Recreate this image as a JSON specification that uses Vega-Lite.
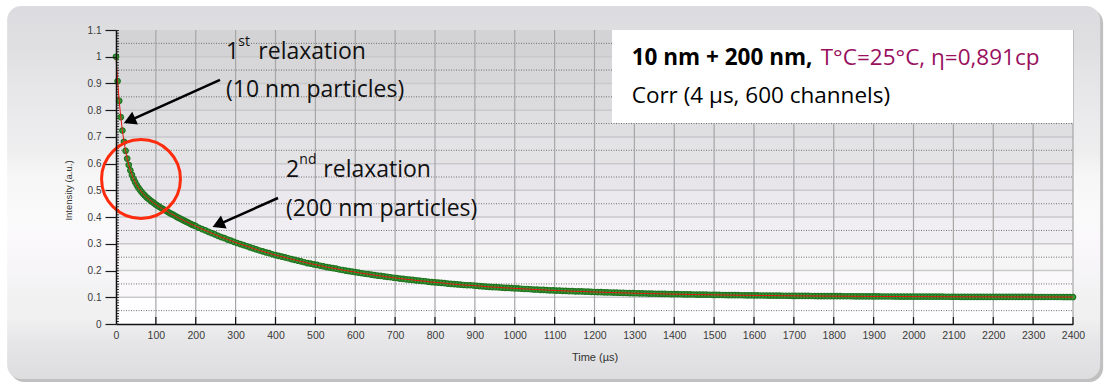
{
  "$schema": "https://vega.github.io/schema/vega-lite/v6.json",
  "width": 957,
  "height": 294,
  "autosize": {"type": "none"},
  "padding": {"left": 116, "top": 30, "right": 34, "bottom": 63},
  "background": "#ffffff",
  "config": {
    "view": {"stroke": null},
    "axis": {
      "grid": false,
      "labelFont": "Liberation Sans",
      "titleFont": "Liberation Sans",
      "labelColor": "#3a3a3a",
      "titleColor": "#333333",
      "titleFontWeight": "normal",
      "domainColor": "#111111",
      "labelOverlap": false,
      "labelFlush": false,
      "labelBound": false,
      "domainWidth": 1.5
    },
    "axisX": {
      "ticks": false,
      "labelPadding": 6,
      "labelFontSize": 10.5,
      "titleFontSize": 11,
      "titleY": 33,
      "titleBaseline": "middle"
    },
    "axisY": {
      "tickSize": 11,
      "tickColor": "#1a1a1a",
      "tickWidth": 1.2,
      "labelPadding": 4,
      "labelFontSize": 10,
      "titleFontSize": 9.5,
      "titleX": -48,
      "titleY": 160,
      "titleBaseline": "middle"
    }
  },
  "datasets": {
    "curve": [
      {"t":0,"v":1},{"t":4,"v":0.909},{"t":8,"v":0.835},{"t":12,"v":0.774},{"t":16,"v":0.724},{"t":20,"v":0.682},{"t":24,"v":0.648},{"t":28,"v":0.619},{"t":32,"v":0.595},{"t":36,"v":0.575},{"t":40,"v":0.558},{"t":44,"v":0.543},{"t":48,"v":0.531},{"t":52,"v":0.52},{"t":56,"v":0.51},{"t":60,"v":0.502},{"t":64,"v":0.494},{"t":68,"v":0.487},{"t":72,"v":0.481},{"t":76,"v":0.475},{"t":80,"v":0.47},{"t":84,"v":0.465},{"t":88,"v":0.46},{"t":92,"v":0.456},{"t":96,"v":0.451},{"t":100,"v":0.447},{"t":104,"v":0.443},{"t":108,"v":0.439},{"t":112,"v":0.435},{"t":116,"v":0.432},{"t":120,"v":0.428},{"t":124,"v":0.425},{"t":128,"v":0.421},{"t":132,"v":0.418},{"t":136,"v":0.414},{"t":140,"v":0.411},{"t":144,"v":0.408},{"t":148,"v":0.405},{"t":152,"v":0.401},{"t":156,"v":0.398},{"t":160,"v":0.395},{"t":164,"v":0.392},{"t":168,"v":0.389},{"t":172,"v":0.386},{"t":176,"v":0.383},{"t":180,"v":0.38},{"t":184,"v":0.377},{"t":188,"v":0.374},{"t":192,"v":0.371},{"t":196,"v":0.369},{"t":200,"v":0.366},
      {"t":208,"v":0.36},{"t":216,"v":0.355},{"t":224,"v":0.35},{"t":232,"v":0.345},{"t":240,"v":0.34},{"t":248,"v":0.335},{"t":256,"v":0.33},{"t":264,"v":0.325},{"t":272,"v":0.321},{"t":280,"v":0.316},{"t":288,"v":0.312},{"t":296,"v":0.307},{"t":304,"v":0.303},{"t":312,"v":0.299},{"t":320,"v":0.295},{"t":328,"v":0.291},{"t":336,"v":0.287},{"t":344,"v":0.283},{"t":352,"v":0.279},{"t":360,"v":0.275},{"t":368,"v":0.272},{"t":376,"v":0.268},{"t":384,"v":0.265},{"t":392,"v":0.261},{"t":400,"v":0.258},{"t":408,"v":0.255},{"t":416,"v":0.252},{"t":424,"v":0.249},{"t":432,"v":0.246},{"t":440,"v":0.243},{"t":448,"v":0.24},{"t":456,"v":0.237},{"t":464,"v":0.234},{"t":472,"v":0.231},{"t":480,"v":0.228},{"t":488,"v":0.226},{"t":496,"v":0.223},{"t":504,"v":0.221},{"t":512,"v":0.218},{"t":520,"v":0.216},{"t":528,"v":0.213},{"t":536,"v":0.211},{"t":544,"v":0.209},{"t":552,"v":0.207},{"t":560,"v":0.204},{"t":568,"v":0.202},{"t":576,"v":0.2},{"t":584,"v":0.198},{"t":592,"v":0.196},{"t":600,"v":0.194},
      {"t":608,"v":0.192},{"t":616,"v":0.19},{"t":624,"v":0.188},{"t":632,"v":0.187},{"t":640,"v":0.185},{"t":648,"v":0.183},{"t":656,"v":0.181},{"t":664,"v":0.18},{"t":672,"v":0.178},{"t":680,"v":0.176},{"t":688,"v":0.175},{"t":696,"v":0.173},{"t":704,"v":0.172},{"t":712,"v":0.17},{"t":720,"v":0.169},{"t":728,"v":0.167},{"t":736,"v":0.166},{"t":744,"v":0.165},{"t":752,"v":0.163},{"t":760,"v":0.162},{"t":768,"v":0.161},{"t":776,"v":0.16},{"t":784,"v":0.158},{"t":792,"v":0.157},{"t":800,"v":0.156},{"t":808,"v":0.155},{"t":816,"v":0.154},{"t":824,"v":0.153},{"t":832,"v":0.151},{"t":840,"v":0.15},{"t":848,"v":0.149},{"t":856,"v":0.148},{"t":864,"v":0.147},{"t":872,"v":0.146},{"t":880,"v":0.145},{"t":888,"v":0.145},{"t":896,"v":0.144},{"t":904,"v":0.143},{"t":912,"v":0.142},{"t":920,"v":0.141},{"t":928,"v":0.14},{"t":936,"v":0.139},{"t":944,"v":0.138},{"t":952,"v":0.138},{"t":960,"v":0.137},{"t":968,"v":0.136},{"t":976,"v":0.135},{"t":984,"v":0.135},{"t":992,"v":0.134},{"t":1000,"v":0.133},
      {"t":1008,"v":0.133},{"t":1016,"v":0.132},{"t":1024,"v":0.131},{"t":1032,"v":0.131},{"t":1040,"v":0.13},{"t":1048,"v":0.129},{"t":1056,"v":0.129},{"t":1064,"v":0.128},{"t":1072,"v":0.128},{"t":1080,"v":0.127},{"t":1088,"v":0.126},{"t":1096,"v":0.126},{"t":1104,"v":0.125},{"t":1112,"v":0.125},{"t":1120,"v":0.124},{"t":1128,"v":0.124},{"t":1136,"v":0.123},{"t":1144,"v":0.123},{"t":1152,"v":0.122},{"t":1160,"v":0.122},{"t":1168,"v":0.122},{"t":1176,"v":0.121},{"t":1184,"v":0.121},{"t":1192,"v":0.12},{"t":1200,"v":0.1198},
      {"t":1208,"v":0.1194},{"t":1216,"v":0.119},{"t":1224,"v":0.1186},{"t":1232,"v":0.1182},{"t":1240,"v":0.1179},{"t":1248,"v":0.1175},{"t":1256,"v":0.1171},{"t":1264,"v":0.1168},{"t":1272,"v":0.1164},{"t":1280,"v":0.1161},{"t":1288,"v":0.1158},{"t":1296,"v":0.1154},{"t":1304,"v":0.1151},{"t":1312,"v":0.1148},{"t":1320,"v":0.1145},{"t":1328,"v":0.1142},{"t":1336,"v":0.1139},{"t":1344,"v":0.1136},{"t":1352,"v":0.1133},{"t":1360,"v":0.1131},{"t":1368,"v":0.1128},{"t":1376,"v":0.1125},{"t":1384,"v":0.1123},{"t":1392,"v":0.112},{"t":1400,"v":0.1118},
      {"t":1408,"v":0.1115},{"t":1416,"v":0.1113},{"t":1424,"v":0.1111},{"t":1432,"v":0.1108},{"t":1440,"v":0.1106},{"t":1448,"v":0.1104},{"t":1456,"v":0.1102},{"t":1464,"v":0.11},{"t":1472,"v":0.1098},{"t":1480,"v":0.1096},{"t":1488,"v":0.1094},{"t":1496,"v":0.1092},{"t":1504,"v":0.109},{"t":1512,"v":0.1088},{"t":1520,"v":0.1086},{"t":1528,"v":0.1084},{"t":1536,"v":0.1083},{"t":1544,"v":0.1081},{"t":1552,"v":0.1079},{"t":1560,"v":0.1078},{"t":1568,"v":0.1076},{"t":1576,"v":0.1075},{"t":1584,"v":0.1073},{"t":1592,"v":0.1072},{"t":1600,"v":0.107},
      {"t":1608,"v":0.1069},{"t":1616,"v":0.1067},{"t":1624,"v":0.1066},{"t":1632,"v":0.1065},{"t":1640,"v":0.1063},{"t":1648,"v":0.1062},{"t":1656,"v":0.1061},{"t":1664,"v":0.1059},{"t":1672,"v":0.1058},{"t":1680,"v":0.1057},{"t":1688,"v":0.1056},{"t":1696,"v":0.1055},{"t":1704,"v":0.1053},{"t":1712,"v":0.1052},{"t":1720,"v":0.1051},{"t":1728,"v":0.105},{"t":1736,"v":0.1049},{"t":1744,"v":0.1048},{"t":1752,"v":0.1047},{"t":1760,"v":0.1046},{"t":1768,"v":0.1045},{"t":1776,"v":0.1044},{"t":1784,"v":0.1043},{"t":1792,"v":0.1042},{"t":1800,"v":0.1042},
      {"t":1808,"v":0.1041},{"t":1816,"v":0.104},{"t":1824,"v":0.1039},{"t":1832,"v":0.1038},{"t":1840,"v":0.1038},{"t":1848,"v":0.1037},{"t":1856,"v":0.1036},{"t":1864,"v":0.1035},{"t":1872,"v":0.1034},{"t":1880,"v":0.1034},{"t":1888,"v":0.1033},{"t":1896,"v":0.1032},{"t":1904,"v":0.1032},{"t":1912,"v":0.1031},{"t":1920,"v":0.103},{"t":1928,"v":0.103},{"t":1936,"v":0.1029},{"t":1944,"v":0.1029},{"t":1952,"v":0.1028},{"t":1960,"v":0.1028},{"t":1968,"v":0.1027},{"t":1976,"v":0.1026},{"t":1984,"v":0.1026},{"t":1992,"v":0.1025},{"t":2000,"v":0.1025},
      {"t":2008,"v":0.1024},{"t":2016,"v":0.1024},{"t":2024,"v":0.1023},{"t":2032,"v":0.1023},{"t":2040,"v":0.1022},{"t":2048,"v":0.1022},{"t":2056,"v":0.1021},{"t":2064,"v":0.1021},{"t":2072,"v":0.1021},{"t":2080,"v":0.102},{"t":2088,"v":0.102},{"t":2096,"v":0.1019},{"t":2104,"v":0.1019},{"t":2112,"v":0.1019},{"t":2120,"v":0.1018},{"t":2128,"v":0.1018},{"t":2136,"v":0.1017},{"t":2144,"v":0.1017},{"t":2152,"v":0.1017},{"t":2160,"v":0.1016},{"t":2168,"v":0.1016},{"t":2176,"v":0.1016},{"t":2184,"v":0.1015},{"t":2192,"v":0.1015},{"t":2200,"v":0.1015},
      {"t":2208,"v":0.1014},{"t":2216,"v":0.1014},{"t":2224,"v":0.1014},{"t":2232,"v":0.1014},{"t":2240,"v":0.1013},{"t":2248,"v":0.1013},{"t":2256,"v":0.1013},{"t":2264,"v":0.1013},{"t":2272,"v":0.1012},{"t":2280,"v":0.1012},{"t":2288,"v":0.1012},{"t":2296,"v":0.1012},{"t":2304,"v":0.1011},{"t":2312,"v":0.1011},{"t":2320,"v":0.1011},{"t":2328,"v":0.1011},{"t":2336,"v":0.101},{"t":2344,"v":0.101},{"t":2352,"v":0.101},{"t":2360,"v":0.101},{"t":2368,"v":0.101},{"t":2376,"v":0.1009},{"t":2384,"v":0.1009},{"t":2392,"v":0.1009},{"t":2400,"v":0.1009}
    ],
    "gx": [
      {"t":100},{"t":200},{"t":300},{"t":400},{"t":500},{"t":600},{"t":700},{"t":800},{"t":900},{"t":1000},{"t":1100},{"t":1200},
      {"t":1300},{"t":1400},{"t":1500},{"t":1600},{"t":1700},{"t":1800},{"t":1900},{"t":2000},{"t":2100},{"t":2200},{"t":2300},{"t":2400}
    ],
    "gy": [
      {"v":0.1},{"v":0.2},{"v":0.3},{"v":0.4},{"v":0.5},{"v":0.6},{"v":0.7},{"v":0.8},{"v":0.9},{"v":1}
    ],
    "gyd": [
      {"v":0.05},{"v":0.15},{"v":0.25},{"v":0.35},{"v":0.45},{"v":0.55},{"v":0.65},{"v":0.75},{"v":0.85},{"v":0.95},{"v":1.05}
    ],
    "arrows": [
      {"x1":260.8,"y1":0.913,"x2":33.9,"y2":0.761},
      {"x1":406.3,"y1":0.4714,"x2":256.3,"y2":0.372}
    ],
    "notes": [
      {"t":275.9,"v":0.9915,"s":"1"},
      {"t":356.9,"v":0.9915,"s":"relaxation"},
      {"t":275.9,"v":0.848,"s":"(10 nm particles)"},
      {"t":426.3,"v":0.549,"s":"2"},
      {"t":519.9,"v":0.549,"s":"relaxation"},
      {"t":426.3,"v":0.405,"s":"(200 nm particles)"}
    ],
    "sups": [
      {"t":306.5,"v":1.041,"s":"st"},
      {"t":459.7,"v":0.599,"s":"nd"}
    ],
    "boxBold": [{"t":1293.3,"v":0.969,"s":"10 nm + 200 nm,"}],
    "boxCond": [{"t":1767.3,"v":0.969,"s":"T°C=25°C, η=0,891cp"}],
    "boxPlain": [{"t":1293.3,"v":0.8258,"s":"Corr (4 µs, 600 channels)"}]
  },
  "layer": [
    {
      "data": {"values": [{}]},
      "mark": {"type": "rect", "cornerRadius": 14, "fill": "#8c8c8c", "fillOpacity": 0.55, "xOffset": 3, "x2Offset": 3, "yOffset": 3, "y2Offset": 3},
      "encoding": {
        "x": {"datum": -273, "type": "quantitative", "scale": {"domain": [0, 2400], "nice": false, "zero": false}, "axis": {"zindex": 2, "labelOverlap": false, "values": [0,100,200,300,400,500,600,700,800,900,1000,1100,1200,1300,1400,1500,1600,1700,1800,1900,2000,2100,2200,2300,2400], "format": "d", "title": "Time (µs)"}},
        "x2": {"datum": 2468},
        "y": {"datum": 1.19, "type": "quantitative", "scale": {"domain": [0, 1.1], "nice": false, "zero": false}, "axis": {"zindex": 2, "labelOverlap": false, "values": [0,0.1,0.2,0.3,0.4,0.5,0.6,0.7,0.8,0.9,1,1.1], "format": "~g", "title": "Intensity (a.u.)"}},
        "y2": {"datum": -0.206}
      }
    },
    {
      "data": {"values": [{}]},
      "mark": {
        "type": "rect", "cornerRadius": 14,
        "fill": {"gradient": "linear", "x1": 0, "y1": 0, "x2": 0, "y2": 1, "stops": [
          {"offset": 0, "color": "#dcdbdf"},
          {"offset": 0.11, "color": "#dfdfe1"},
          {"offset": 0.18, "color": "#e4e4e6"},
          {"offset": 0.31, "color": "#ebebed"},
          {"offset": 0.39, "color": "#eeeeef"},
          {"offset": 0.45, "color": "#f6f6f7"},
          {"offset": 0.57, "color": "#fafafa"},
          {"offset": 0.63, "color": "#fbf8fc"},
          {"offset": 0.77, "color": "#f2f2f3"},
          {"offset": 0.84, "color": "#f0f0f1"},
          {"offset": 0.9, "color": "#e6e6e8"},
          {"offset": 1, "color": "#dddcdf"}
        ]}
      },
      "encoding": {
        "x": {"datum": -273, "type": "quantitative", "scale": {"domain": [0, 2400], "nice": false, "zero": false}, "axis": {"zindex": 2, "labelOverlap": false, "values": [0,100,200,300,400,500,600,700,800,900,1000,1100,1200,1300,1400,1500,1600,1700,1800,1900,2000,2100,2200,2300,2400], "format": "d", "title": "Time (µs)"}},
        "x2": {"datum": 2468},
        "y": {"datum": 1.19, "type": "quantitative", "scale": {"domain": [0, 1.1], "nice": false, "zero": false}, "axis": {"zindex": 2, "labelOverlap": false, "values": [0,0.1,0.2,0.3,0.4,0.5,0.6,0.7,0.8,0.9,1,1.1], "format": "~g", "title": "Intensity (a.u.)"}},
        "y2": {"datum": -0.206}
      }
    },
    {
      "data": {"values": [{}]},
      "mark": {
        "type": "rect",
        "fill": {"gradient": "linear", "x1": 0, "y1": 0, "x2": 0, "y2": 1, "stops": [
          {"offset": 0, "color": "#d3d3d5"}, {"offset": 0.0909, "color": "#d3d3d5"},
          {"offset": 0.091, "color": "#d7d7d9"}, {"offset": 0.1818, "color": "#d7d7d9"},
          {"offset": 0.1819, "color": "#dbdbdd"}, {"offset": 0.2727, "color": "#dbdbdd"},
          {"offset": 0.2728, "color": "#dfdee1"}, {"offset": 0.3636, "color": "#dfdee1"},
          {"offset": 0.3637, "color": "#e3e2e5"}, {"offset": 0.4545, "color": "#e3e2e5"},
          {"offset": 0.4546, "color": "#e7e5ea"}, {"offset": 0.5454, "color": "#e7e5ea"},
          {"offset": 0.5455, "color": "#ebe9ee"}, {"offset": 0.6363, "color": "#ebe9ee"},
          {"offset": 0.6364, "color": "#f0eef3"}, {"offset": 0.7272, "color": "#f0eef3"},
          {"offset": 0.7273, "color": "#f5f5f5"}, {"offset": 0.8181, "color": "#f5f5f5"},
          {"offset": 0.8182, "color": "#fbf8fc"}, {"offset": 0.909, "color": "#fbf8fc"},
          {"offset": 0.9091, "color": "#fefdff"}, {"offset": 1, "color": "#fefdff"}
        ]}
      },
      "encoding": {
        "x": {"datum": 0, "type": "quantitative", "scale": {"domain": [0, 2400], "nice": false, "zero": false}, "axis": {"zindex": 2, "labelOverlap": false, "values": [0,100,200,300,400,500,600,700,800,900,1000,1100,1200,1300,1400,1500,1600,1700,1800,1900,2000,2100,2200,2300,2400], "format": "d", "title": "Time (µs)"}},
        "x2": {"datum": 2400},
        "y": {"datum": 1.1, "type": "quantitative", "scale": {"domain": [0, 1.1], "nice": false, "zero": false}, "axis": {"zindex": 2, "labelOverlap": false, "values": [0,0.1,0.2,0.3,0.4,0.5,0.6,0.7,0.8,0.9,1,1.1], "format": "~g", "title": "Intensity (a.u.)"}},
        "y2": {"datum": 0}
      }
    },
    {
      "data": {"name": "gy"},
      "mark": {"type": "rule", "color": "#c9c9cc", "strokeWidth": 1.5},
      "encoding": {
        "y": {"field": "v", "type": "quantitative", "scale": {"domain": [0, 1.1], "nice": false, "zero": false}, "axis": {"zindex": 2, "labelOverlap": false, "values": [0,0.1,0.2,0.3,0.4,0.5,0.6,0.7,0.8,0.9,1,1.1], "format": "~g", "title": "Intensity (a.u.)"}},
        "x": {"datum": 0, "type": "quantitative", "scale": {"domain": [0, 2400], "nice": false, "zero": false}, "axis": {"zindex": 2, "labelOverlap": false, "values": [0,100,200,300,400,500,600,700,800,900,1000,1100,1200,1300,1400,1500,1600,1700,1800,1900,2000,2100,2200,2300,2400], "format": "d", "title": "Time (µs)"}},
        "x2": {"datum": 2400}
      }
    },
    {
      "data": {"name": "gyd"},
      "mark": {"type": "rule", "color": "#6e6e6e", "strokeWidth": 1, "strokeDash": [1, 1.5]},
      "encoding": {
        "y": {"field": "v", "type": "quantitative", "scale": {"domain": [0, 1.1], "nice": false, "zero": false}, "axis": {"zindex": 2, "labelOverlap": false, "values": [0,0.1,0.2,0.3,0.4,0.5,0.6,0.7,0.8,0.9,1,1.1], "format": "~g", "title": "Intensity (a.u.)"}},
        "x": {"datum": 0, "type": "quantitative", "scale": {"domain": [0, 2400], "nice": false, "zero": false}, "axis": {"zindex": 2, "labelOverlap": false, "values": [0,100,200,300,400,500,600,700,800,900,1000,1100,1200,1300,1400,1500,1600,1700,1800,1900,2000,2100,2200,2300,2400], "format": "d", "title": "Time (µs)"}},
        "x2": {"datum": 2400}
      }
    },
    {
      "data": {"name": "gx"},
      "mark": {"type": "rule", "color": "#a6a6a6", "strokeWidth": 1.2},
      "encoding": {
        "x": {"field": "t", "type": "quantitative", "scale": {"domain": [0, 2400], "nice": false, "zero": false}, "axis": {"zindex": 2, "labelOverlap": false, "values": [0,100,200,300,400,500,600,700,800,900,1000,1100,1200,1300,1400,1500,1600,1700,1800,1900,2000,2100,2200,2300,2400], "format": "d", "title": "Time (µs)"}},
        "y": {"datum": 0, "type": "quantitative", "scale": {"domain": [0, 1.1], "nice": false, "zero": false}, "axis": {"zindex": 2, "labelOverlap": false, "values": [0,0.1,0.2,0.3,0.4,0.5,0.6,0.7,0.8,0.9,1,1.1], "format": "~g", "title": "Intensity (a.u.)"}},
        "y2": {"datum": 1.1}
      }
    },
    {
      "data": {"name": "gx"},
      "mark": {"type": "rule", "color": "#111111", "strokeWidth": 1.2},
      "encoding": {
        "x": {"field": "t", "type": "quantitative", "scale": {"domain": [0, 2400], "nice": false, "zero": false}, "axis": {"zindex": 2, "labelOverlap": false, "values": [0,100,200,300,400,500,600,700,800,900,1000,1100,1200,1300,1400,1500,1600,1700,1800,1900,2000,2100,2200,2300,2400], "format": "d", "title": "Time (µs)"}},
        "y": {"datum": 0, "type": "quantitative", "scale": {"domain": [0, 1.1], "nice": false, "zero": false}, "axis": {"zindex": 2, "labelOverlap": false, "values": [0,0.1,0.2,0.3,0.4,0.5,0.6,0.7,0.8,0.9,1,1.1], "format": "~g", "title": "Intensity (a.u.)"}},
        "y2": {"datum": 0.026}
      }
    },
    {
      "data": {"values": [{}]},
      "mark": {"type": "rule", "color": "#333333", "strokeWidth": 3, "strokeDash": [1, 1.67], "xOffset": 1.5},
      "encoding": {
        "x": {"datum": 0, "type": "quantitative", "scale": {"domain": [0, 2400], "nice": false, "zero": false}, "axis": {"zindex": 2, "labelOverlap": false, "values": [0,100,200,300,400,500,600,700,800,900,1000,1100,1200,1300,1400,1500,1600,1700,1800,1900,2000,2100,2200,2300,2400], "format": "d", "title": "Time (µs)"}},
        "y": {"datum": 1.1, "type": "quantitative", "scale": {"domain": [0, 1.1], "nice": false, "zero": false}, "axis": {"zindex": 2, "labelOverlap": false, "values": [0,0.1,0.2,0.3,0.4,0.5,0.6,0.7,0.8,0.9,1,1.1], "format": "~g", "title": "Intensity (a.u.)"}},
        "y2": {"datum": 0}
      }
    },
    {
      "data": {"values": [{}]},
      "mark": {"type": "rect", "fill": "#ffffff"},
      "encoding": {
        "x": {"datum": 1244, "type": "quantitative", "scale": {"domain": [0, 2400], "nice": false, "zero": false}, "axis": {"zindex": 2, "labelOverlap": false, "values": [0,100,200,300,400,500,600,700,800,900,1000,1100,1200,1300,1400,1500,1600,1700,1800,1900,2000,2100,2200,2300,2400], "format": "d", "title": "Time (µs)"}},
        "x2": {"datum": 2400},
        "y": {"datum": 1.1, "type": "quantitative", "scale": {"domain": [0, 1.1], "nice": false, "zero": false}, "axis": {"zindex": 2, "labelOverlap": false, "values": [0,0.1,0.2,0.3,0.4,0.5,0.6,0.7,0.8,0.9,1,1.1], "format": "~g", "title": "Intensity (a.u.)"}},
        "y2": {"datum": 0.752}
      }
    },
    {
      "data": {"name": "curve"},
      "mark": {"type": "point", "filled": true, "fill": "#3a983a", "stroke": "#1d741d", "strokeWidth": 1.2, "size": 30, "opacity": 1},
      "encoding": {
        "x": {"field": "t", "type": "quantitative", "scale": {"domain": [0, 2400], "nice": false, "zero": false}, "axis": {"zindex": 2, "labelOverlap": false, "values": [0,100,200,300,400,500,600,700,800,900,1000,1100,1200,1300,1400,1500,1600,1700,1800,1900,2000,2100,2200,2300,2400], "format": "d", "title": "Time (µs)"}},
        "y": {"field": "v", "type": "quantitative", "scale": {"domain": [0, 1.1], "nice": false, "zero": false}, "axis": {"zindex": 2, "labelOverlap": false, "values": [0,0.1,0.2,0.3,0.4,0.5,0.6,0.7,0.8,0.9,1,1.1], "format": "~g", "title": "Intensity (a.u.)"}}
      }
    },
    {
      "data": {"name": "curve"},
      "mark": {"type": "line", "color": "#e8140f", "strokeWidth": 1},
      "encoding": {
        "x": {"field": "t", "type": "quantitative", "scale": {"domain": [0, 2400], "nice": false, "zero": false}, "axis": {"zindex": 2, "labelOverlap": false, "values": [0,100,200,300,400,500,600,700,800,900,1000,1100,1200,1300,1400,1500,1600,1700,1800,1900,2000,2100,2200,2300,2400], "format": "d", "title": "Time (µs)"}},
        "y": {"field": "v", "type": "quantitative", "scale": {"domain": [0, 1.1], "nice": false, "zero": false}, "axis": {"zindex": 2, "labelOverlap": false, "values": [0,0.1,0.2,0.3,0.4,0.5,0.6,0.7,0.8,0.9,1,1.1], "format": "~g", "title": "Intensity (a.u.)"}}
      }
    },
    {
      "data": {"values": [{}]},
      "mark": {"type": "point", "shape": "circle", "filled": false, "stroke": "#ff2b0d", "strokeWidth": 3, "size": 6221, "opacity": 1},
      "encoding": {
        "x": {"datum": 62.7, "type": "quantitative", "scale": {"domain": [0, 2400], "nice": false, "zero": false}, "axis": {"zindex": 2, "labelOverlap": false, "values": [0,100,200,300,400,500,600,700,800,900,1000,1100,1200,1300,1400,1500,1600,1700,1800,1900,2000,2100,2200,2300,2400], "format": "d", "title": "Time (µs)"}},
        "y": {"datum": 0.5425, "type": "quantitative", "scale": {"domain": [0, 1.1], "nice": false, "zero": false}, "axis": {"zindex": 2, "labelOverlap": false, "values": [0,0.1,0.2,0.3,0.4,0.5,0.6,0.7,0.8,0.9,1,1.1], "format": "~g", "title": "Intensity (a.u.)"}}
      }
    },
    {
      "data": {"name": "arrows"},
      "mark": {"type": "rule", "color": "#000000", "strokeWidth": 2.5},
      "encoding": {
        "x": {"field": "x1", "type": "quantitative", "scale": {"domain": [0, 2400], "nice": false, "zero": false}, "axis": {"zindex": 2, "labelOverlap": false, "values": [0,100,200,300,400,500,600,700,800,900,1000,1100,1200,1300,1400,1500,1600,1700,1800,1900,2000,2100,2200,2300,2400], "format": "d", "title": "Time (µs)"}},
        "y": {"field": "y1", "type": "quantitative", "scale": {"domain": [0, 1.1], "nice": false, "zero": false}, "axis": {"zindex": 2, "labelOverlap": false, "values": [0,0.1,0.2,0.3,0.4,0.5,0.6,0.7,0.8,0.9,1,1.1], "format": "~g", "title": "Intensity (a.u.)"}},
        "x2": {"field": "x2"},
        "y2": {"field": "y2"}
      }
    },
    {
      "data": {"name": "arrows"},
      "mark": {"type": "point", "shape": "triangle-up", "filled": true, "color": "#000000", "size": 200, "angle": 246, "opacity": 1},
      "encoding": {
        "x": {"field": "x2", "type": "quantitative", "scale": {"domain": [0, 2400], "nice": false, "zero": false}, "axis": {"zindex": 2, "labelOverlap": false, "values": [0,100,200,300,400,500,600,700,800,900,1000,1100,1200,1300,1400,1500,1600,1700,1800,1900,2000,2100,2200,2300,2400], "format": "d", "title": "Time (µs)"}},
        "y": {"field": "y2", "type": "quantitative", "scale": {"domain": [0, 1.1], "nice": false, "zero": false}, "axis": {"zindex": 2, "labelOverlap": false, "values": [0,0.1,0.2,0.3,0.4,0.5,0.6,0.7,0.8,0.9,1,1.1], "format": "~g", "title": "Intensity (a.u.)"}}
      }
    },
    {
      "data": {"name": "notes"},
      "mark": {"type": "text", "align": "left", "baseline": "alphabetic", "font": "Open Sans", "fontSize": 23, "color": "#111111"},
      "encoding": {
        "x": {"field": "t", "type": "quantitative", "scale": {"domain": [0, 2400], "nice": false, "zero": false}, "axis": {"zindex": 2, "labelOverlap": false, "values": [0,100,200,300,400,500,600,700,800,900,1000,1100,1200,1300,1400,1500,1600,1700,1800,1900,2000,2100,2200,2300,2400], "format": "d", "title": "Time (µs)"}},
        "y": {"field": "v", "type": "quantitative", "scale": {"domain": [0, 1.1], "nice": false, "zero": false}, "axis": {"zindex": 2, "labelOverlap": false, "values": [0,0.1,0.2,0.3,0.4,0.5,0.6,0.7,0.8,0.9,1,1.1], "format": "~g", "title": "Intensity (a.u.)"}},
        "text": {"field": "s"}
      }
    },
    {
      "data": {"name": "sups"},
      "mark": {"type": "text", "align": "left", "baseline": "alphabetic", "font": "Open Sans", "fontSize": 14, "color": "#111111"},
      "encoding": {
        "x": {"field": "t", "type": "quantitative", "scale": {"domain": [0, 2400], "nice": false, "zero": false}, "axis": {"zindex": 2, "labelOverlap": false, "values": [0,100,200,300,400,500,600,700,800,900,1000,1100,1200,1300,1400,1500,1600,1700,1800,1900,2000,2100,2200,2300,2400], "format": "d", "title": "Time (µs)"}},
        "y": {"field": "v", "type": "quantitative", "scale": {"domain": [0, 1.1], "nice": false, "zero": false}, "axis": {"zindex": 2, "labelOverlap": false, "values": [0,0.1,0.2,0.3,0.4,0.5,0.6,0.7,0.8,0.9,1,1.1], "format": "~g", "title": "Intensity (a.u.)"}},
        "text": {"field": "s"}
      }
    },
    {
      "data": {"name": "boxBold"},
      "mark": {"type": "text", "align": "left", "baseline": "alphabetic", "font": "Open Sans", "fontSize": 22.5, "fontWeight": "bold", "color": "#000000"},
      "encoding": {
        "x": {"field": "t", "type": "quantitative", "scale": {"domain": [0, 2400], "nice": false, "zero": false}, "axis": {"zindex": 2, "labelOverlap": false, "values": [0,100,200,300,400,500,600,700,800,900,1000,1100,1200,1300,1400,1500,1600,1700,1800,1900,2000,2100,2200,2300,2400], "format": "d", "title": "Time (µs)"}},
        "y": {"field": "v", "type": "quantitative", "scale": {"domain": [0, 1.1], "nice": false, "zero": false}, "axis": {"zindex": 2, "labelOverlap": false, "values": [0,0.1,0.2,0.3,0.4,0.5,0.6,0.7,0.8,0.9,1,1.1], "format": "~g", "title": "Intensity (a.u.)"}},
        "text": {"field": "s"}
      }
    },
    {
      "data": {"name": "boxCond"},
      "mark": {"type": "text", "align": "left", "baseline": "alphabetic", "font": "Open Sans", "fontSize": 22.5, "color": "#990f5e"},
      "encoding": {
        "x": {"field": "t", "type": "quantitative", "scale": {"domain": [0, 2400], "nice": false, "zero": false}, "axis": {"zindex": 2, "labelOverlap": false, "values": [0,100,200,300,400,500,600,700,800,900,1000,1100,1200,1300,1400,1500,1600,1700,1800,1900,2000,2100,2200,2300,2400], "format": "d", "title": "Time (µs)"}},
        "y": {"field": "v", "type": "quantitative", "scale": {"domain": [0, 1.1], "nice": false, "zero": false}, "axis": {"zindex": 2, "labelOverlap": false, "values": [0,0.1,0.2,0.3,0.4,0.5,0.6,0.7,0.8,0.9,1,1.1], "format": "~g", "title": "Intensity (a.u.)"}},
        "text": {"field": "s"}
      }
    },
    {
      "data": {"name": "boxPlain"},
      "mark": {"type": "text", "align": "left", "baseline": "alphabetic", "font": "Open Sans", "fontSize": 22.5, "color": "#000000"},
      "encoding": {
        "x": {"field": "t", "type": "quantitative", "scale": {"domain": [0, 2400], "nice": false, "zero": false}, "axis": {"zindex": 2, "labelOverlap": false, "values": [0,100,200,300,400,500,600,700,800,900,1000,1100,1200,1300,1400,1500,1600,1700,1800,1900,2000,2100,2200,2300,2400], "format": "d", "title": "Time (µs)"}},
        "y": {"field": "v", "type": "quantitative", "scale": {"domain": [0, 1.1], "nice": false, "zero": false}, "axis": {"zindex": 2, "labelOverlap": false, "values": [0,0.1,0.2,0.3,0.4,0.5,0.6,0.7,0.8,0.9,1,1.1], "format": "~g", "title": "Intensity (a.u.)"}},
        "text": {"field": "s"}
      }
    }
  ]
}
